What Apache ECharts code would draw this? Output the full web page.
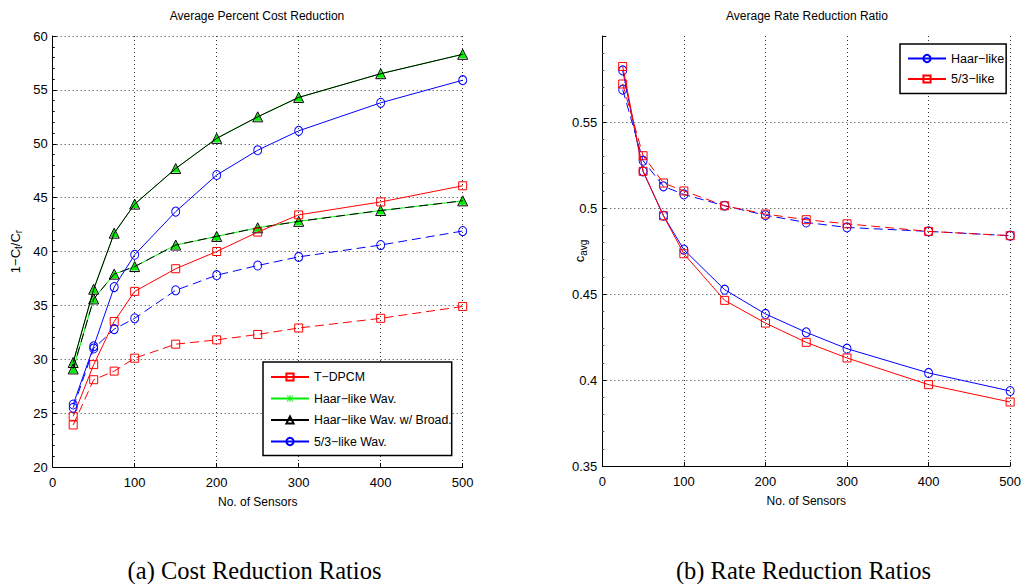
<!DOCTYPE html>
<html>
<head>
<meta charset="utf-8">
<script src="https://cdn.jsdelivr.net/npm/echarts@6/dist/echarts.min.js"></script>
<style>
html,body{margin:0;padding:0;background:#fff;}
#chart{width:1024px;height:584px;}
</style>
</head>
<body>
<div id="chart"></div>
<script>
// ---- data ----
const sensors = [25, 50, 75, 100, 150, 200, 250, 300, 400, 500];
const xTicks = [0, 100, 200, 300, 400, 500];

// (a) Average Percent Cost Reduction
const tdpcmSolid   = [24.7, 29.5, 33.5, 36.3, 38.4, 40.0, 41.8, 43.4, 44.6, 46.1];
const tdpcmDashed  = [23.9, 28.1, 28.9, 30.1, 31.4, 31.8, 32.3, 32.9, 33.8, 34.9];
const haarSolid    = [29.7, 36.5, 41.7, 44.4, 47.7, 50.5, 52.5, 54.3, 56.5, 58.3];
const haarDashed   = [29.1, 35.6, 37.9, 38.6, 40.6, 41.4, 42.2, 42.8, 43.8, 44.7];
const broadSolid   = [29.7, 36.5, 41.7, 44.4, 47.7, 50.5, 52.5, 54.3, 56.5, 58.3];
const broadDashed  = [29.1, 35.6, 37.9, 38.6, 40.6, 41.4, 42.2, 42.8, 43.8, 44.7];
const waveSolid    = [25.8, 31.2, 36.7, 39.7, 43.7, 47.1, 49.4, 51.2, 53.8, 55.9];
const waveDashed   = [25.5, 31.0, 32.8, 33.8, 36.4, 37.8, 38.7, 39.5, 40.6, 41.9];

// (b) Average Rate Reduction Ratio
const haarRateSolid  = [0.5800, 0.5213, 0.4955, 0.4758, 0.4525, 0.4384, 0.4277, 0.4182, 0.4041, 0.3936];
const haarRateDashed = [0.5688, 0.5275, 0.5126, 0.5079, 0.5013, 0.4958, 0.4916, 0.4887, 0.4864, 0.4839];
const fiveRateSolid  = [0.5823, 0.5213, 0.4955, 0.4734, 0.4463, 0.4331, 0.4219, 0.4128, 0.3973, 0.3872];
const fiveRateDashed = [0.5721, 0.5304, 0.5145, 0.5099, 0.5013, 0.4965, 0.4932, 0.4908, 0.4864, 0.4839];

const leftNames  = ['T\u2212DPCM', 'Haar\u2212like Wav.', 'Haar\u2212like Wav. w/ Broad.', '5/3\u2212like Wav.'];
const rightNames = ['Haar\u2212like', '5/3\u2212like'];

// ---- build ----
const pairs = ys => ys.map((y, i) => [sensors[i], y]);
const RED = '#ff0000', GREEN = '#00ee00', BLACK = '#000000', BLUE = '#0000ff';
const FONT = 'Liberation Sans, Arial, Helvetica, sans-serif';
const SERIF = 'Liberation Serif, Times New Roman, serif';
const STAR = 'path://M4.4 0 L5.6 0 L5.6 10 L4.4 10 Z M0 4.4 L10 4.4 L10 5.6 L0 5.6 Z M1.2 0.4 L9.6 8.8 L8.8 9.6 L0.4 1.2 Z M8.8 0.4 L9.6 1.2 L1.2 9.6 L0.4 8.8 Z';

function line(name, data, color, symbol, size, dashed, gi, opts) {
  opts = opts || {};
  return {
    type: 'line', name: name, data: data, xAxisIndex: gi, yAxisIndex: gi,
    symbol: symbol, symbolSize: size, showAllSymbol: true, animation: false,
    z: opts.z || 2,
    lineStyle: { color: color, width: 1, type: dashed ? [9, 5] : 'solid' },
    itemStyle: { color: opts.fill || 'rgba(0,0,0,0)', borderColor: opts.border || color, borderWidth: opts.bw === undefined ? 1 : opts.bw },
    emphasis: { disabled: true }
  };
}

const gridLine = { show: true, lineStyle: { color: '#333', type: [1, 3], width: 1 }, showMinLine: false };
function xAxis(gi) {
  return {
    type: 'value', gridIndex: gi, min: 0, max: 500, interval: 100,
    name: 'No. of Sensors', nameLocation: 'middle', nameGap: 29, nameMoveOverlap: false,
    nameTextStyle: { fontFamily: FONT, fontSize: 12, color: '#000' },
    axisLine: { show: true, onZero: false, lineStyle: { color: '#000', width: 1 } },
    axisTick: { show: true, inside: true, length: 4, lineStyle: { color: '#000' } },
    minorTick: { show: false },
    axisLabel: { fontFamily: FONT, fontSize: 13, color: '#000', margin: 9 },
    splitLine: gridLine
  };
}

const option = {
  backgroundColor: '#fff',
  animation: false,
  grid: [
    { left: 52.7, top: 36, width: 410, height: 431 },
    { left: 602.3, top: 36, width: 410, height: 430 }
  ],
  xAxis: [xAxis(0), xAxis(1)],
  yAxis: [
    {
      type: 'value', gridIndex: 0, min: 20, max: 60, interval: 5,
      name: '{n|1\u2212C}{s|t}{n|/C}{s|r}', nameLocation: 'middle', nameGap: 29, nameRotate: 90, nameMoveOverlap: false,
      nameTextStyle: { rich: { n: { fontFamily: FONT, fontSize: 13, color: '#000' }, s: { fontFamily: FONT, fontSize: 10, color: '#000', padding: [7, 0, 0, 0] } } },
      axisLine: { show: true, onZero: false, lineStyle: { color: '#000', width: 1 } },
      axisTick: { show: true, inside: true, length: 4, lineStyle: { color: '#000' } },
      minorTick: { show: true, splitNumber: 5, length: 2, lineStyle: { color: '#000' } },
      axisLabel: { fontFamily: FONT, fontSize: 13, color: '#000', margin: 5 },
      splitLine: gridLine
    },
    {
      type: 'value', gridIndex: 1, min: 0.35, max: 0.6, interval: 0.05,
      name: '{n|c}{s|avg}', nameLocation: 'middle', nameGap: 14, nameRotate: 90, nameMoveOverlap: false,
      nameTextStyle: { rich: { n: { fontFamily: FONT, fontSize: 13, color: '#000' }, s: { fontFamily: FONT, fontSize: 10, color: '#000', padding: [7, 0, 0, 0] } } },
      axisLine: { show: true, onZero: false, lineStyle: { color: '#000', width: 1 } },
      axisTick: { show: true, inside: true, length: 4, lineStyle: { color: '#000' } },
      minorTick: { show: true, splitNumber: 5, length: 2, lineStyle: { color: '#555' } },
      axisLabel: { fontFamily: FONT, fontSize: 13, color: '#000', margin: 5, showMaxLabel: false,
        formatter: v => String(Math.round(v * 100) / 100) },
      splitLine: Object.assign({}, gridLine, { showMaxLine: false })
    }
  ],
  legend: [
    {
      data: leftNames, orient: 'vertical', left: 263, top: 362,
      itemWidth: 38, itemHeight: 9, itemGap: 9.5,
      padding: [9, 0, 8, 7],
      borderColor: '#000', borderWidth: 1.5, backgroundColor: '#fff',
      textStyle: { fontFamily: FONT, fontSize: 12.3, color: '#000' },
      selectedMode: false
    },
    {
      data: rightNames, orient: 'vertical', left: 900, top: 44,
      itemWidth: 38, itemHeight: 9, itemGap: 7.5,
      padding: [8, 2, 8, 7],
      borderColor: '#000', borderWidth: 1.5, backgroundColor: '#fff',
      textStyle: { fontFamily: FONT, fontSize: 12.5, color: '#000' },
      selectedMode: false
    }
  ],
  graphic: [
    { type: 'text', x: 257, y: 10, style: { text: 'Average Percent Cost Reduction', font: '12px ' + FONT, fill: '#000', align: 'center' } },
    { type: 'text', x: 807, y: 10, style: { text: 'Average Rate Reduction Ratio', font: '12px ' + FONT, fill: '#000', align: 'center' } },
    { type: 'text', x: 254.5, y: 558, style: { text: '(a) Cost Reduction Ratios', font: '24.5px ' + SERIF, fill: '#000', align: 'center' } },
    { type: 'text', x: 803.5, y: 558, style: { text: '(b) Rate Reduction Ratios', font: '24.5px ' + SERIF, fill: '#000', align: 'center' } }
  ],
  series: [
    // left chart
    line('haarSolidPlot', pairs(haarSolid), GREEN, 'triangle', 8, false, 0, { fill: GREEN, bw: 0 }),
    line('haarDashedPlot', pairs(haarDashed), GREEN, 'triangle', 8, false, 0, { fill: GREEN, bw: 0 }),
    line(leftNames[1], [], GREEN, STAR, 9, false, 0, { fill: GREEN, bw: 0 }),
    line(leftNames[2], pairs(broadSolid), BLACK, 'triangle', 10, false, 0, { z: 3 }),
    line('broadDashed', pairs(broadDashed), BLACK, 'triangle', 10, true, 0, { z: 3 }),
    line(leftNames[0], pairs(tdpcmSolid), RED, 'rect', 8, false, 0, { z: 4 }),
    line('tdpcmDashed', pairs(tdpcmDashed), RED, 'rect', 8, true, 0, { z: 4 }),
    line(leftNames[3], pairs(waveSolid), BLUE, 'circle', [8, 9], false, 0, { z: 5 }),
    line('waveDashed', pairs(waveDashed), BLUE, 'circle', [8, 9], true, 0, { z: 5 }),
    // right chart
    line(rightNames[0], pairs(haarRateSolid), BLUE, 'circle', [8, 9], false, 1, { z: 3 }),
    line('haarRateDashed', pairs(haarRateDashed), BLUE, 'circle', [8, 9], true, 1, { z: 3 }),
    line(rightNames[1], pairs(fiveRateSolid), RED, 'rect', 8, false, 1, { z: 4 }),
    line('fiveRateDashed', pairs(fiveRateDashed), RED, 'rect', 8, true, 1, { z: 4 })
  ]
};

const chart = echarts.init(document.getElementById('chart'), null, { renderer: 'svg', width: 1024, height: 584 });
chart.setOption(option);
</script>
</body>
</html>
